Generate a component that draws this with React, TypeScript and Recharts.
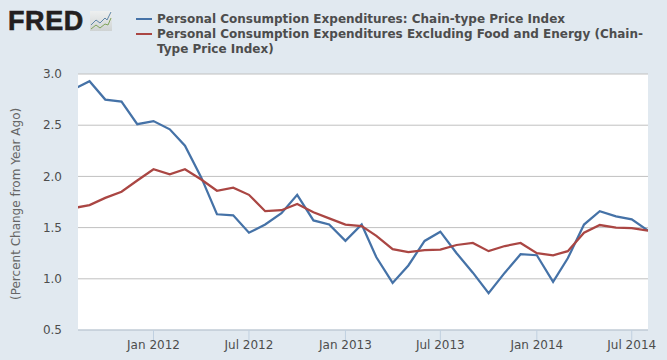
import React from 'react';
import { LineChart, Line, XAxis, YAxis, CartesianGrid, Legend } from 'recharts';

const months = [
  '2011-08', '2011-09', '2011-10', '2011-11', '2011-12',
  '2012-01', '2012-02', '2012-03', '2012-04', '2012-05', '2012-06', '2012-07', '2012-08', '2012-09', '2012-10', '2012-11', '2012-12',
  '2013-01', '2013-02', '2013-03', '2013-04', '2013-05', '2013-06', '2013-07', '2013-08', '2013-09', '2013-10', '2013-11', '2013-12',
  '2014-01', '2014-02', '2014-03', '2014-04', '2014-05', '2014-06', '2014-07', '2014-08',
];

const pceValues = [
  2.85, 2.93, 2.75, 2.73, 2.51,
  2.54, 2.46, 2.30, 1.99, 1.63, 1.62, 1.45, 1.53, 1.64, 1.82, 1.57, 1.53,
  1.37, 1.53, 1.21, 0.96, 1.13, 1.37, 1.46, 1.25, 1.06, 0.86, 1.06, 1.24,
  1.23, 0.97, 1.20, 1.53, 1.66, 1.61, 1.58, 1.47,
];

const coreValues = [
  1.69, 1.72, 1.79, 1.85, 1.96,
  2.07, 2.02, 2.07, 1.97, 1.86, 1.89, 1.82, 1.66, 1.67, 1.73, 1.65, 1.59,
  1.53, 1.515, 1.42, 1.29, 1.26, 1.28, 1.285, 1.33, 1.35, 1.27, 1.32, 1.35,
  1.25, 1.23, 1.27, 1.45, 1.525, 1.50, 1.495, 1.47,
];

const xTicks = ['2012-01', '2012-07', '2013-01', '2013-07', '2014-01', '2014-07'];
const yTicks = [0.5, 1.0, 1.5, 2.0, 2.5, 3.0];

const PCE_NAME = 'Personal Consumption Expenditures: Chain-type Price Index';
const CORE_NAME = 'Personal Consumption Expenditures Excluding Food and Energy (Chain-Type Price Index)';

const BLUE = '#4572A7';
const RED = '#AA4643';
const BG = '#E1E9F0';
const TEXT = '#4D4D4D';

const toTime = (s: string) => new Date(s.length === 7 ? s + '-01T00:00:00Z' : s + 'T00:00:00Z').getTime();
const monthNames = ['Jan', 'Feb', 'Mar', 'Apr', 'May', 'Jun', 'Jul', 'Aug', 'Sep', 'Oct', 'Nov', 'Dec'];
const formatMonth = (t: number) => {
  const d = new Date(t);
  return monthNames[d.getUTCMonth()] + ' ' + d.getUTCFullYear();
};

const chartData = months.map((m, i) => ({ time: toTime(m), pce: pceValues[i], core: coreValues[i] }));

const xDomain = [toTime('2011-08-10'), toTime('2014-08-01')];

// legend text wraps at the same width as the original
const LegendBox = ({ payload }: any) => (
  <div style={{ fontFamily: '"DejaVu Sans"', fontSize: 12, fontWeight: 700, lineHeight: '15px', color: TEXT }}>
    {(payload || []).map((p: any) => (
      <div key={p.value} style={{ position: 'relative', paddingLeft: 21 }}>
        <span style={{ position: 'absolute', left: 0, top: 6, width: 16, height: 2, background: p.color }} />
        {p.value}
      </div>
    ))}
  </div>
);

const Logo = () => (
  <div style={{ position: 'absolute', left: 8, top: 5, width: 105, height: 28 }}>
    <span style={{ position: 'absolute', left: 0, top: 0, fontFamily: '"Liberation Sans"', fontWeight: 700, fontSize: 27, lineHeight: '32px', color: '#231F20', letterSpacing: 0.6, WebkitTextStroke: '0.6px #231F20' }}>
      FRED
    </span>
    <svg width={22} height={20} style={{ position: 'absolute', left: 82, top: 6 }}>
      <defs>
        <linearGradient id="logoBg" x1="0" y1="0" x2="0" y2="1">
          <stop offset="0" stopColor="#EEF0F0" />
          <stop offset="1" stopColor="#CFD3D3" />
        </linearGradient>
      </defs>
      <rect x={0} y={0} width={22} height={20} fill="url(#logoBg)" />
      <polyline points="1,14 6,9 10,12 15,7 17,9 21,1" fill="none" stroke="#5F86A8" strokeWidth={1} />
      <polyline points="1,18 6,14 10,17 15,13 18,14 21,7" fill="none" stroke="#7FA35A" strokeWidth={1} />
    </svg>
  </div>
);

export default function App() {
  return (
    <div style={{ position: 'absolute', left: 0, top: 0, width: 667, height: 360, background: BG, overflow: 'hidden' }}>
      <LineChart width={667} height={360} data={chartData} margin={{ top: 74, right: 19, bottom: 0, left: 0 }}>
        <CartesianGrid horizontal vertical={false} stroke="#C0C0C0" fill="#FFFFFF" syncWithTicks />
        <XAxis
          dataKey="time"
          type="number"
          scale="time"
          domain={xDomain}
          allowDataOverflow
          ticks={xTicks.map(toTime)}
          tickFormatter={formatMonth}
          interval={0}
          height={30}
          stroke="#C0D0E0"
          tickSize={10}
          tickMargin={0}
          tick={{ fill: TEXT, fontFamily: '"DejaVu Sans"', fontSize: 12 }}
        />
        <YAxis
          type="number"
          domain={[0.5, 3]}
          ticks={yTicks}
          tickFormatter={(v: number) => v.toFixed(1)}
          width={78}
          axisLine={false}
          tickLine={false}
          tickMargin={10}
          tick={{ fill: TEXT, fontFamily: '"DejaVu Sans"', fontSize: 12 }}
          label={{
            value: '(Percent Change from Year Ago)',
            angle: -90,
            position: 'insideLeft',
            offset: 0,
            dx: 16,
            dy: 98,
            style: { fill: '#666666', fontFamily: '"DejaVu Sans"', fontSize: 12 },
          }}
        />
        <Legend
          verticalAlign="middle"
          align="center"
          layout="vertical"
          itemSorter={null}
          content={<LegendBox />}
          wrapperStyle={{ position: 'absolute', left: 136, top: 12, width: 510 }}
        />
        <Line dataKey="pce" name={PCE_NAME} stroke={BLUE} strokeWidth={2.25} dot={false} isAnimationActive={false} />
        <Line dataKey="core" name={CORE_NAME} stroke={RED} strokeWidth={2.25} dot={false} isAnimationActive={false} />
      </LineChart>
      <Logo />
    </div>
  );
}
